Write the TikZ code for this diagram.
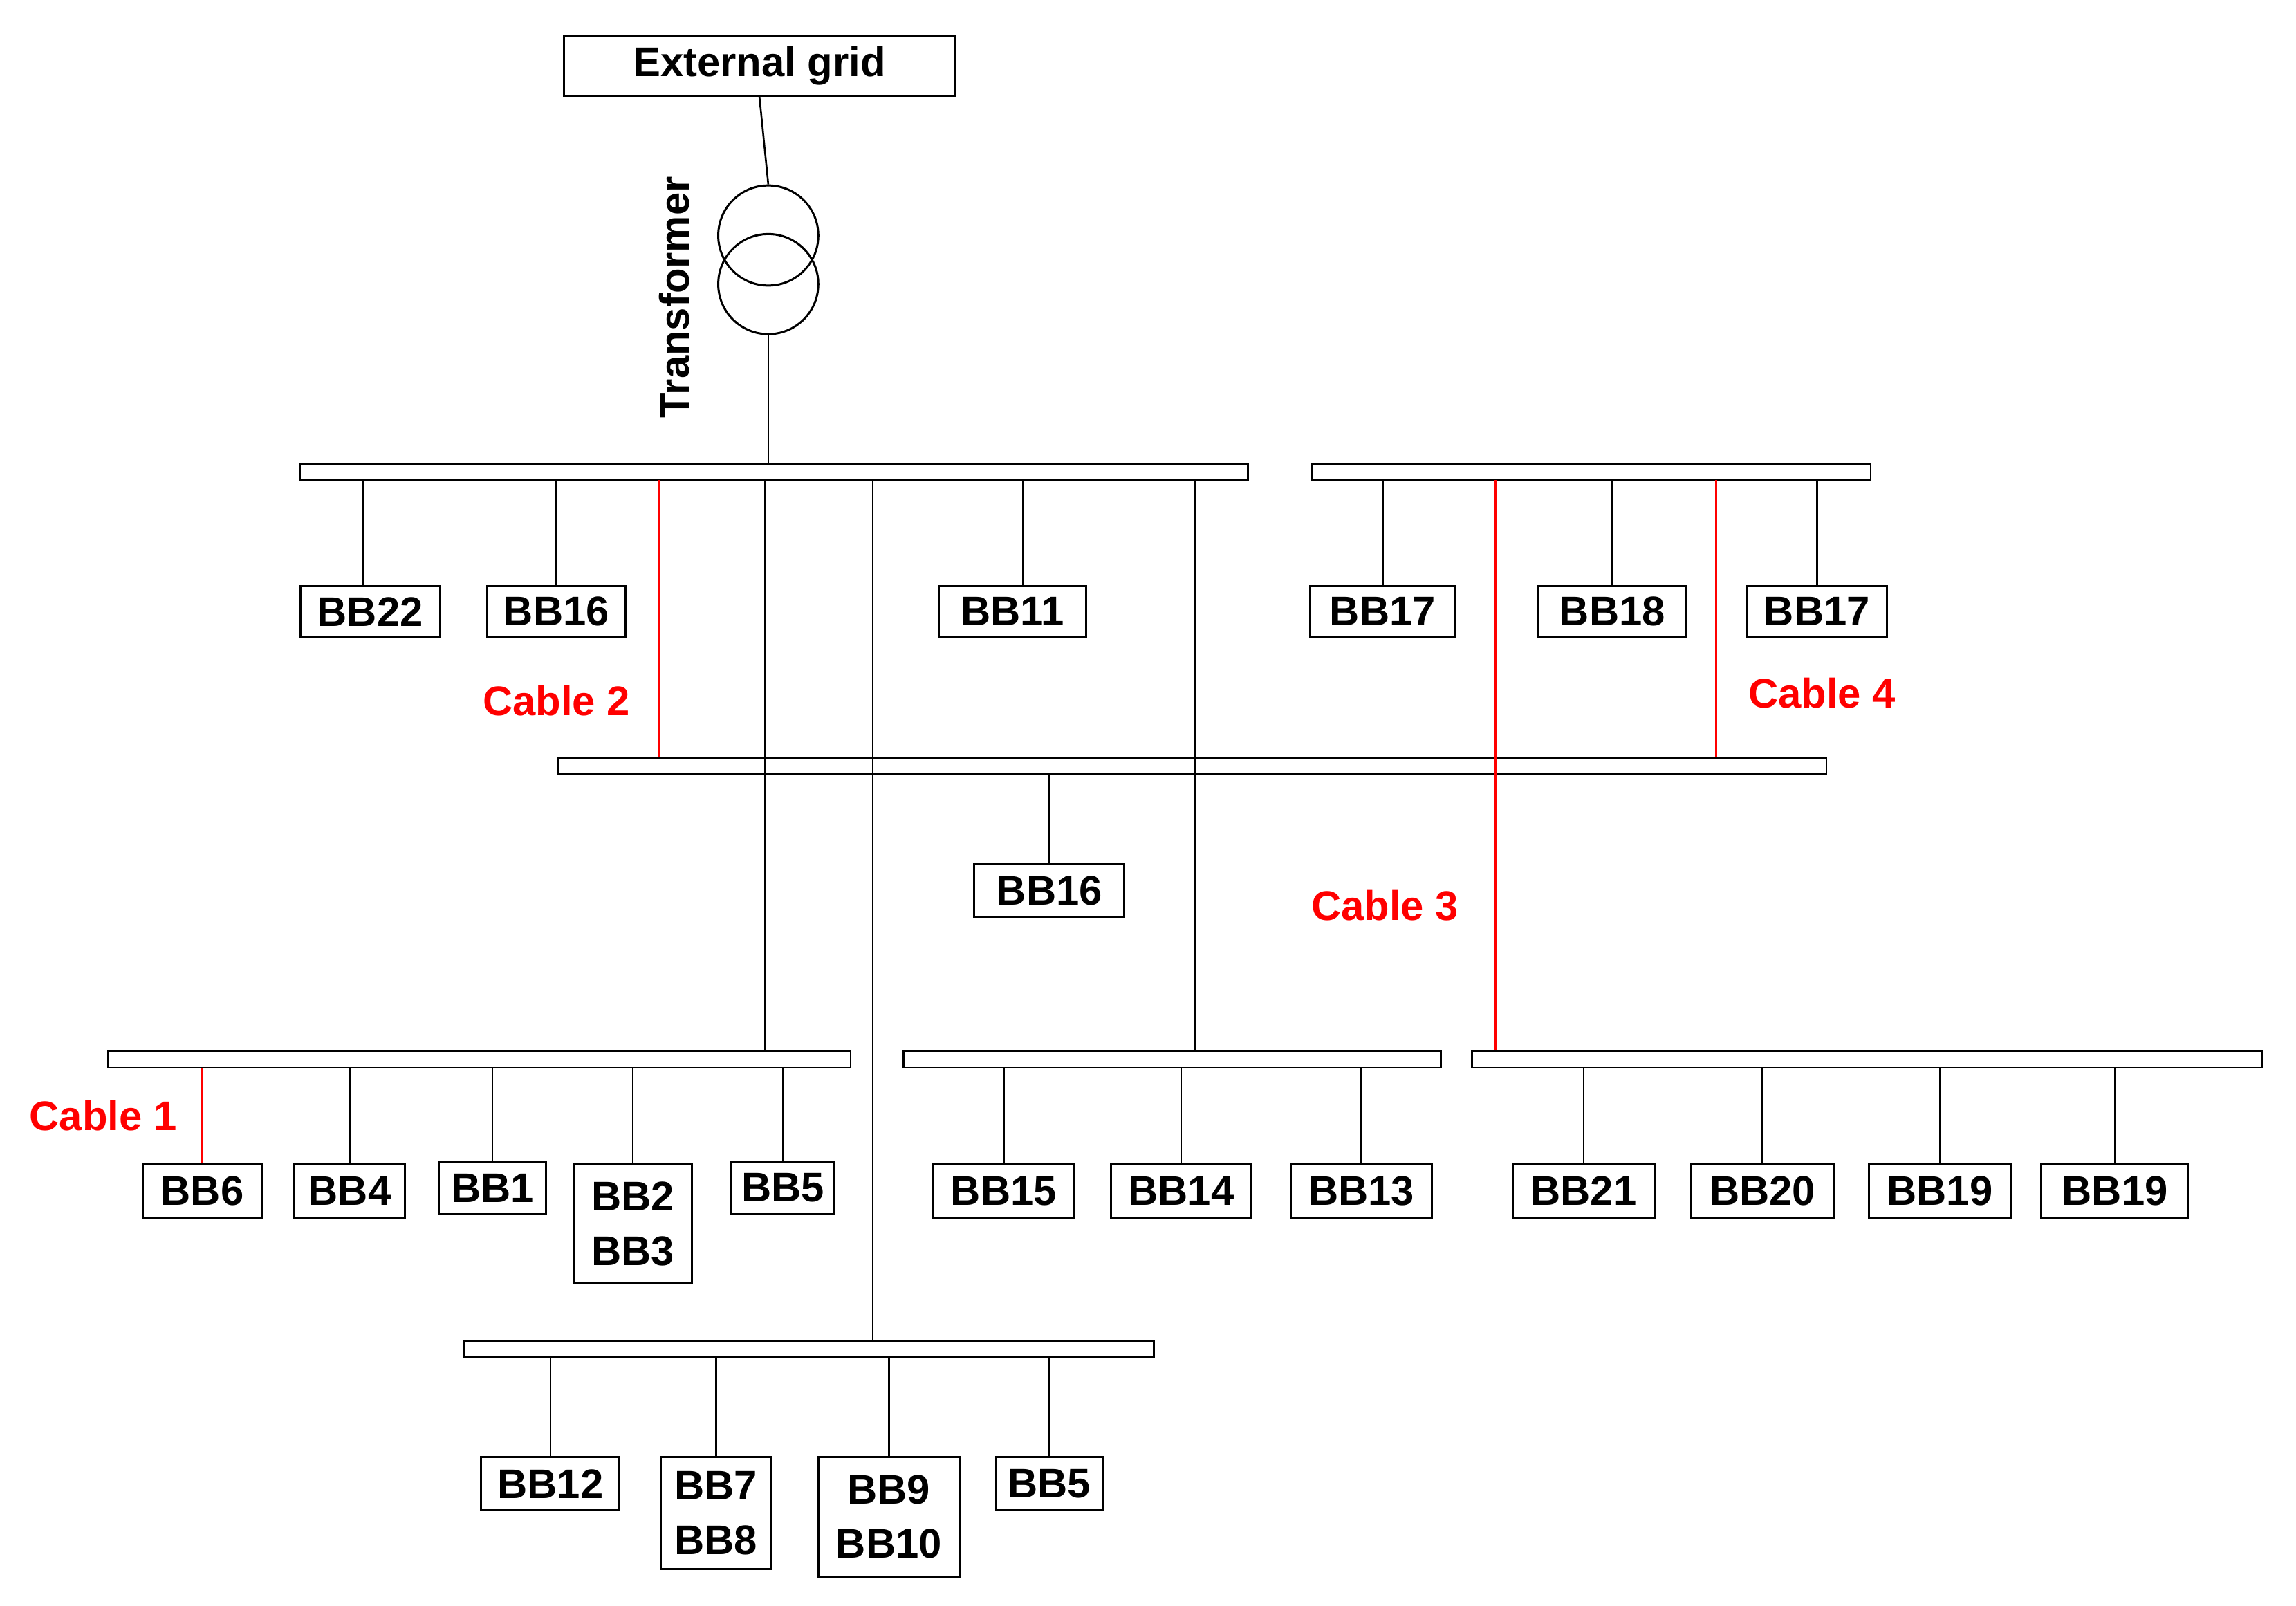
\documentclass[tikz,border=0pt]{standalone}
\usepackage{fontspec}
\setmainfont{Liberation Sans}
\begin{document}
\begin{tikzpicture}[x=0.02cm,y=-0.02cm,
  box/.style={draw,line width=0.8pt,inner sep=0pt,align=center,font=\fontsize{16}{21}\selectfont\bfseries},
  bus/.style={draw,line width=0.7pt,inner sep=0pt},
  ln/.style={line width=0.7pt},
  red/.style={draw=red,line width=0.8pt},
  lab/.style={text=red,font=\fontsize{16}{19}\selectfont\bfseries}]
\useasboundingbox (0,0) rectangle (1560,1091);
\newcommand\bx[6]{\node[box,minimum width={(#4-#2)*0.02cm},minimum height={(#5-#3)*0.02cm}] (#1) at ({(#2+#4)/2},{(#3+#5)/2}) {#6};}
\newcommand\bs[5]{\node[bus,minimum width={(#4-#2)*0.02cm},minimum height={(#5-#3)*0.02cm}] (#1) at ({(#2+#4)/2},{(#3+#5)/2}) {};}
% grid and transformer
\bx{grid}{383}{24}{649}{65}{External grid}
\node[circle,draw,line width=0.8pt,minimum size=68*0.02cm,inner sep=0pt] (t1) at (522,160) {};
\node[circle,draw,line width=0.8pt,minimum size=68*0.02cm,inner sep=0pt] (t2) at (522,193) {};
\node[rotate=90,font=\fontsize{16}{19}\selectfont\bfseries] (tl) at (458,202) {Transformer};
% buses
\bs{b1}{204}{315}{848}{326}
\bs{b2}{891}{315}{1271}{326}
\bs{bm}{379}{515}{1241}{526}
\bs{bl}{73}{714}{578}{725}
\bs{bc}{614}{714}{979}{725}
\bs{br}{1000}{714}{1537}{725}
\bs{bb}{315}{911}{784}{922}
\draw[ln] (grid.south) -- (t1.north);
\draw[ln] (t2.south) -- (t2.south |- b1.north);
% boxes
\bx{bb22}{204}{398}{299}{433}{BB22}
\bx{bb16a}{331}{398}{425}{433}{BB16}
\bx{bb11}{638}{398}{738}{433}{BB11}
\bx{bb17a}{890}{398}{989}{433}{BB17}
\bx{bb18}{1045}{398}{1146}{433}{BB18}
\bx{bb17b}{1187}{398}{1282}{433}{BB17}
\bx{bb16b}{662}{587}{764}{623}{BB16}
\bx{bb6}{97}{791}{178}{827}{BB6}
\bx{bb4}{200}{791}{275}{827}{BB4}
\bx{bb1}{298}{789}{371}{825}{BB1}
\bx{bb23}{390}{791}{470}{872}{BB2\\BB3}
\bx{bb5a}{497}{789}{567}{825}{BB5}
\bx{bb15}{634}{791}{730}{827}{BB15}
\bx{bb14}{755}{791}{850}{827}{BB14}
\bx{bb13}{877}{791}{973}{827}{BB13}
\bx{bb21}{1028}{791}{1124}{827}{BB21}
\bx{bb20}{1149}{791}{1246}{827}{BB20}
\bx{bb19a}{1270}{791}{1366}{827}{BB19}
\bx{bb19b}{1387}{791}{1487}{827}{BB19}
\bx{bb12}{327}{990}{421}{1026}{BB12}
\bx{bb78}{449}{990}{524}{1066}{BB7\\BB8}
\bx{bb910}{556}{990}{652}{1071}{BB9\\BB10}
\bx{bb5b}{677}{990}{749}{1026}{BB5}
% coordinates for vertical feeders
\coordinate (c520) at (520,326); \coordinate (c593) at (593,326);
\coordinate (c812) at (812,326); \coordinate (c1016) at (1016,326);
\coordinate (c448) at (448,326); \coordinate (c1166) at (1166,326);
\draw[ln] ([xshift=-5*0.02cm]bb22.north |- b1.south) -- ([xshift=-5*0.02cm]bb22.north);
\draw[ln] (bb16a.north |- b1.south) -- (bb16a.north);
\draw[ln] ([xshift=7*0.02cm]bb11.north |- b1.south) -- ([xshift=7*0.02cm]bb11.north);
\draw[ln] (c520) -- (c520 |- bl.north);
\draw[ln] (c593) -- (c593 |- bb.north);
\draw[ln] (c812) -- (c812 |- bc.north);
\draw[red] (c448) -- (c448 |- bm.north);
\draw[ln] (bb17a.north |- b2.south) -- (bb17a.north);
\draw[ln] (bb18.north |- b2.south) -- (bb18.north);
\draw[ln] (bb17b.north |- b2.south) -- (bb17b.north);
\draw[red] (c1016) -- (c1016 |- br.north);
\draw[red] (c1166) -- (c1166 |- bm.north);
\draw[ln] (bb16b.north |- bm.south) -- (bb16b.north);
\draw[red] (bb6.north |- bl.south) -- (bb6.north);
\draw[ln] (bb4.north |- bl.south) -- (bb4.north);
\draw[ln] (bb1.north |- bl.south) -- (bb1.north);
\draw[ln] (bb23.north |- bl.south) -- (bb23.north);
\draw[ln] (bb5a.north |- bl.south) -- (bb5a.north);
\draw[ln] (bb15.north |- bc.south) -- (bb15.north);
\draw[ln] (bb14.north |- bc.south) -- (bb14.north);
\draw[ln] (bb13.north |- bc.south) -- (bb13.north);
\draw[ln] (bb21.north |- br.south) -- (bb21.north);
\draw[ln] (bb20.north |- br.south) -- (bb20.north);
\draw[ln] (bb19a.north |- br.south) -- (bb19a.north);
\draw[ln] (bb19b.north |- br.south) -- (bb19b.north);
\draw[ln] (bb12.north |- bb.south) -- (bb12.north);
\draw[ln] (bb78.north |- bb.south) -- (bb78.north);
\draw[ln] (bb910.north |- bb.south) -- (bb910.north);
\draw[ln] (bb5b.north |- bb.south) -- (bb5b.north);
% labels
\node[lab] (l2) at (378,476) {Cable 2};
\node[lab] (l4) at (1238,471) {Cable 4};
\node[lab] (l3) at (941,615) {Cable 3};
\node[lab] (l1) at (70,758) {Cable 1};
\end{tikzpicture}
\end{document}
